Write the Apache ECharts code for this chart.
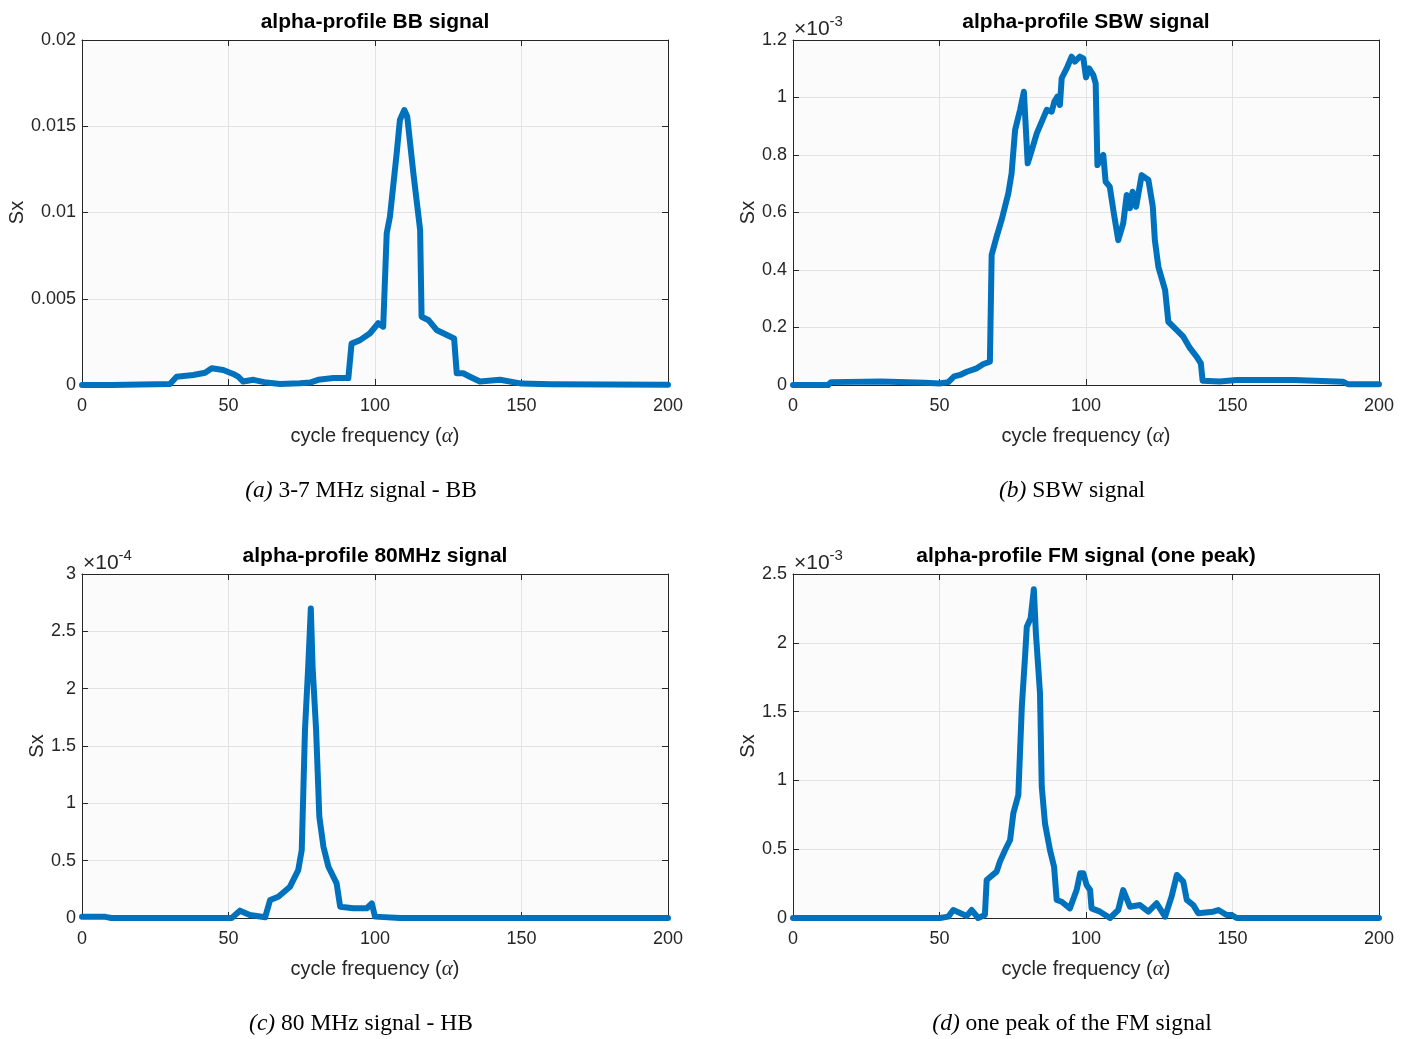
<!DOCTYPE html>
<html>
<head>
<meta charset="utf-8">
<script src="https://cdn.jsdelivr.net/npm/echarts@6/dist/echarts.min.js"></script>
<style>
html,body{margin:0;padding:0;background:#fff;}
#c{width:1412px;height:1039px;}
</style>
</head>
<body>
<div id="c"></div>
<script>
// ---------- data ----------
const aX = [0, 10, 20, 30, 32.3, 38, 42, 44.3, 48.2, 51.6, 53.3, 55, 58.5, 63, 67.6, 74.4, 77.8, 80.6, 85.8, 90.9, 92, 94.9, 98.3, 101.1, 102.8, 104, 105.1, 107.4, 108.5, 110, 111, 113.1, 115.4, 115.9, 118.2, 121, 123.3, 127, 127.9, 130.1, 132.4, 135.8, 142.7, 150, 160, 180, 200];
const aY = [0, 0, 0.00003, 0.00006, 0.00048, 0.00058, 0.00071, 0.00097, 0.00087, 0.00064, 0.00048, 0.0002, 0.0003, 0.00014, 0.00006, 0.0001, 0.00014, 0.0003, 0.0004, 0.0004, 0.0024, 0.0026, 0.003, 0.00358, 0.00338, 0.0088, 0.00976, 0.01343, 0.01536, 0.01594, 0.01556, 0.01227, 0.00899, 0.00396, 0.00377, 0.00319, 0.003, 0.0027, 0.00068, 0.00068, 0.00048, 0.0002, 0.0003, 0.00008, 0.00005, 0.00003, 0.00002];

const bX = [0, 12, 13, 30, 45, 50, 53, 55, 57, 59.3, 62.7, 65, 67.2, 67.8, 69.5, 71.2, 73.5, 74.6, 75.8, 77.5, 78.8, 80.1, 81.5, 83.2, 86.6, 88.3, 89.2, 90.2, 91.1, 91.7, 93.4, 95.1, 96.2, 97.9, 99.1, 100, 101.1, 102.5, 103.3, 103.9, 104.8, 105.9, 106.7, 108.1, 109.5, 111, 112.7, 113.9, 115, 115.9, 117.1, 119, 121.3, 122.8, 123.5, 124.7, 127, 128.1, 131, 133.2, 135.5, 137.8, 139.2, 139.8, 145.7, 151.4, 171, 187.7, 189.4, 200];
const bY = [0, 0, 0.01, 0.012, 0.008, 0.005, 0.01, 0.03, 0.035, 0.046, 0.058, 0.073, 0.081, 0.452, 0.516, 0.574, 0.667, 0.736, 0.887, 0.957, 1.02, 0.771, 0.817, 0.875, 0.957, 0.951, 0.985, 1.003, 0.974, 1.067, 1.101, 1.142, 1.125, 1.142, 1.136, 1.07, 1.101, 1.078, 1.049, 0.765, 0.783, 0.8, 0.707, 0.69, 0.597, 0.504, 0.562, 0.661, 0.615, 0.672, 0.62, 0.73, 0.713, 0.62, 0.504, 0.411, 0.33, 0.22, 0.191, 0.168, 0.128, 0.098, 0.075, 0.015, 0.012, 0.017, 0.017, 0.011, 0.003, 0.003];

const cX = [0, 8, 10, 47.1, 51.1, 53.9, 57.3, 62.5, 64.2, 67, 71, 73.8, 75, 76.1, 77.2, 78.1, 78.7, 79.9, 81, 82.4, 84.1, 86.9, 88.1, 92.6, 97.2, 98.9, 100, 108.5, 150, 200];
const cY = [0.01, 0.01, 0, 0, 0, 0.064, 0.026, 0.006, 0.157, 0.186, 0.273, 0.418, 0.593, 1.639, 2.19, 2.70, 2.19, 1.639, 0.883, 0.622, 0.447, 0.302, 0.099, 0.085, 0.085, 0.128, 0.012, 0, 0, 0];

const dX = [0, 43.3, 50.2, 53, 54.7, 59.3, 61, 63.2, 65.5, 66.1, 69.5, 70.6, 72.4, 74.1, 75.2, 76.9, 78.1, 79.2, 79.8, 81.1, 82.2, 82.9, 84.3, 84.9, 86, 87.7, 89.1, 90, 91.7, 94.5, 96.8, 98, 99.1, 100.2, 101.4, 101.9, 104.8, 108.2, 111, 112.7, 115, 118.4, 121.3, 124.1, 127, 129.2, 131, 133.2, 134.4, 136.6, 138.3, 143.4, 145.2, 148, 149.7, 151.4, 200];
const dY = [0, 0, 0, 0.01, 0.058, 0.015, 0.058, 0, 0.022, 0.276, 0.337, 0.409, 0.494, 0.567, 0.761, 0.894, 1.536, 1.9, 2.117, 2.178, 2.389, 2.069, 1.633, 0.954, 0.688, 0.494, 0.373, 0.131, 0.118, 0.07, 0.203, 0.325, 0.325, 0.24, 0.203, 0.07, 0.046, 0, 0.058, 0.203, 0.082, 0.094, 0.046, 0.107, 0.01, 0.155, 0.313, 0.264, 0.131, 0.094, 0.034, 0.046, 0.058, 0.022, 0.022, 0, 0];

const xTicks = ['0', '50', '100', '150', '200'];
const yTicksA = ['0', '0.005', '0.01', '0.015', '0.02'];
const yTicksB = ['0', '0.2', '0.4', '0.6', '0.8', '1', '1.2'];
const yTicksC = ['0', '0.5', '1', '1.5', '2', '2.5', '3'];
const yTicksD = ['0', '0.5', '1', '1.5', '2', '2.5'];

const titles = ['alpha-profile BB signal', 'alpha-profile SBW signal', 'alpha-profile 80MHz signal', 'alpha-profile FM signal (one peak)'];
const captionTags = ['(a)', '(b)', '(c)', '(d)'];
const captions = [' 3-7 MHz signal - BB', ' SBW signal', ' 80 MHz signal - HB', ' one peak of the FM signal'];
const exponents = [null, '-3', '-4', '-3'];

// ---------- layout ----------
const panels = [
  {xs: aX, ys: aY, yt: yTicksA, max: 0.02, step: 0.005, left: 82, top: 40, h: 345, nameGap: 51},
  {xs: bX, ys: bY, yt: yTicksB, max: 1.2, step: 0.2, left: 793, top: 40, h: 345, nameGap: 35},
  {xs: cX, ys: cY, yt: yTicksC, max: 3, step: 0.5, left: 82, top: 574, h: 344, nameGap: 35},
  {xs: dX, ys: dY, yt: yTicksD, max: 2.5, step: 0.5, left: 793, top: 574, h: 344, nameGap: 35}
];
const W = 586;
const axisCol = '#262626';
const fontSans = 'Liberation Sans, Helvetica, Arial, sans-serif';
const fontSerif = 'Liberation Serif, Times New Roman, serif';

const grid = [], xAxis = [], yAxis = [], series = [], graphic = [];

panels.forEach((p, i) => {
  grid.push({left: p.left, top: p.top, width: W, height: p.h, show: true, backgroundColor: '#fbfbfb', borderWidth: 0, containLabel: false});
  const tickCommon = {show: true, inside: true, length: 6, lineStyle: {color: axisCol, width: 1}};
  // bottom x
  xAxis.push({
    type: 'value', gridIndex: i, min: 0, max: 200, interval: 50, position: 'bottom',
    axisLine: {show: true, onZero: false, lineStyle: {color: axisCol, width: 1}},
    axisTick: tickCommon,
    axisLabel: {show: true, color: axisCol, fontSize: 18, fontFamily: fontSans, margin: 12,
      formatter: v => xTicks[Math.round(v / 50)]},
    splitLine: {show: true, lineStyle: {color: '#e3e3e3', width: 1}},
    name: '{t|cycle frequency (}{g|α}{t|)}',
    nameLocation: 'middle', nameGap: 41,
    nameTextStyle: {rich: {
      t: {fontSize: 20, fontFamily: fontSans, color: axisCol},
      g: {fontSize: 21, fontFamily: fontSerif, fontStyle: 'italic', color: axisCol}
    }}
  });
  // top x (box + ticks)
  xAxis.push({
    type: 'value', gridIndex: i, min: 0, max: 200, interval: 50, position: 'top',
    axisLine: {show: true, onZero: false, lineStyle: {color: axisCol, width: 1}},
    axisTick: tickCommon, axisLabel: {show: false}, splitLine: {show: false}
  });
  // left y
  yAxis.push({
    type: 'value', gridIndex: i, min: 0, max: p.max, interval: p.step, position: 'left',
    axisLine: {show: true, onZero: false, lineStyle: {color: axisCol, width: 1}},
    axisTick: tickCommon,
    axisLabel: {show: true, color: axisCol, fontSize: 18, fontFamily: fontSans, margin: 6,
      formatter: v => p.yt[Math.round(v / p.step)]},
    splitLine: {show: true, lineStyle: {color: '#e3e3e3', width: 1}},
    name: 'Sx', nameLocation: 'middle', nameGap: p.nameGap, nameRotate: 90,
    nameTextStyle: {fontSize: 20, fontFamily: fontSans, color: axisCol}
  });
  // right y
  yAxis.push({
    type: 'value', gridIndex: i, min: 0, max: p.max, interval: p.step, position: 'right',
    axisLine: {show: true, onZero: false, lineStyle: {color: axisCol, width: 1}},
    axisTick: tickCommon, axisLabel: {show: false}, splitLine: {show: false}
  });
  series.push({
    type: 'line', xAxisIndex: 2 * i, yAxisIndex: 2 * i,
    data: p.xs.map((x, k) => [x, p.ys[k]]),
    showSymbol: false, symbol: 'none', clip: false, animation: false,
    lineStyle: {color: '#0072BD', width: 6, cap: 'round', join: 'round'}
  });
  // title
  graphic.push({
    type: 'text', x: p.left + W / 2, y: p.top - 18,
    style: {text: titles[i], fontSize: 21, fontWeight: 'bold', fontFamily: fontSans, fill: '#000',
      align: 'center', verticalAlign: 'middle'}
  });
  // exponent
  if (exponents[i]) {
    graphic.push({
      type: 'text', x: p.left + 1, y: p.top - 11,
      style: {text: '{m|×10}{s|' + exponents[i] + '}', fontFamily: fontSans,
        align: 'left', verticalAlign: 'middle',
        rich: {
          m: {fontSize: 21, fontFamily: fontSans, fill: axisCol, color: axisCol},
          s: {fontSize: 15, fontFamily: fontSans, fill: axisCol, color: axisCol, verticalAlign: 'top', padding: [0, 0, 14, 0]}
        }}
    });
  }
  // caption
  graphic.push({
    type: 'text', x: p.left + W / 2 - 14, y: p.top + p.h + 106,
    style: {text: '{i|' + captionTags[i] + '}{r|' + captions[i] + '}',
      align: 'center', verticalAlign: 'middle',
      rich: {
        i: {fontSize: 23.5, fontFamily: fontSerif, fontStyle: 'italic', fill: '#000', color: '#000'},
        r: {fontSize: 23.5, fontFamily: fontSerif, fill: '#000', color: '#000'}
      }}
  });
});

const chart = echarts.init(document.getElementById('c'), null, {renderer: 'canvas'});
chart.setOption({
  backgroundColor: '#ffffff',
  animation: false,
  grid, xAxis, yAxis, series, graphic
});
</script>
</body>
</html>
